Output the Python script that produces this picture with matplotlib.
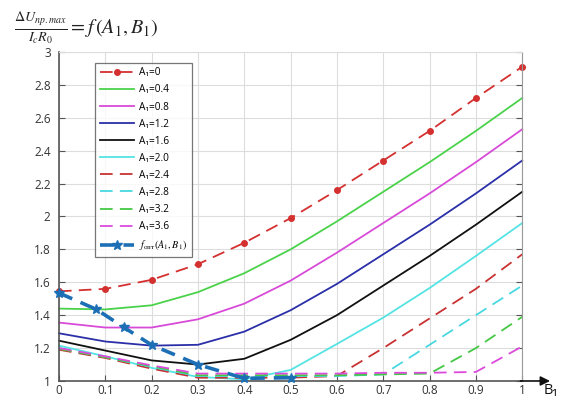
import matplotlib
matplotlib.use('Agg')
import matplotlib.pyplot as plt
import numpy as np

plt.rcParams['font.family'] = ['Open Sans', 'DejaVu Sans']
plt.rcParams['mathtext.fontset'] = 'stix'

b1 = [0.0, 0.1, 0.2, 0.3, 0.4, 0.5, 0.6, 0.7, 0.8, 0.9, 1.0]

a_0   = [1.545, 1.56, 1.615, 1.71, 1.84, 1.99, 2.16, 2.34, 2.52, 2.72, 2.91]
a_04  = [1.44, 1.435, 1.46, 1.54, 1.655, 1.80, 1.97, 2.15, 2.33, 2.52, 2.72]
a_08  = [1.355, 1.325, 1.325, 1.375, 1.47, 1.61, 1.78, 1.96, 2.14, 2.33, 2.53]
a_12  = [1.29, 1.24, 1.215, 1.22, 1.30, 1.43, 1.59, 1.77, 1.95, 2.14, 2.34]
a_16  = [1.245, 1.185, 1.125, 1.10, 1.135, 1.25, 1.40, 1.58, 1.76, 1.95, 2.15]
a_20  = [1.215, 1.15, 1.08, 1.025, 1.01, 1.067, 1.225, 1.385, 1.565, 1.76, 1.96]
a_24  = [1.19, 1.14, 1.075, 1.02, 1.02, 1.02, 1.03, 1.20, 1.38, 1.56, 1.77]
a_28  = [1.20, 1.145, 1.085, 1.03, 1.03, 1.03, 1.03, 1.04, 1.22, 1.40, 1.58]
a_32  = [1.195, 1.145, 1.09, 1.035, 1.035, 1.035, 1.035, 1.04, 1.045, 1.20, 1.39]
a_36  = [1.20, 1.15, 1.095, 1.045, 1.045, 1.045, 1.045, 1.05, 1.05, 1.055, 1.21]

opt_b = [0.0, 0.081, 0.14, 0.2, 0.3, 0.4, 0.5]
opt_v = [1.535, 1.435, 1.326, 1.219, 1.10, 1.016, 1.02]

labels = ['A\u2081=0', 'A\u2081=0.4', 'A\u2081=0.8', 'A\u2081=1.2', 'A\u2081=1.6',
          'A\u2081=2.0', 'A\u2081=2.4', 'A\u2081=2.8', 'A\u2081=3.2', 'A\u2081=3.6']

fig = plt.figure(figsize=(5.67, 4.01), dpi=100)
ax = fig.add_axes([0.104, 0.0499, 0.817, 0.8205])

dash = (0, (7, 4))
ax.plot(b1, a_0, color='#d43030', ls=dash, lw=1.3, marker='o', ms=4, label=labels[0], clip_on=False)
ax.plot(b1, a_04, color='#4bd24b', lw=1.3, label=labels[1], clip_on=False)
ax.plot(b1, a_08, color='#d84ad8', lw=1.3, label=labels[2], clip_on=False)
ax.plot(b1, a_12, color='#2b2fa8', lw=1.3, label=labels[3], clip_on=False)
ax.plot(b1, a_16, color='#111111', lw=1.3, label=labels[4], clip_on=False)
ax.plot(b1, a_20, color='#55e3e3', lw=1.3, label=labels[5], clip_on=False)
ax.plot(b1, a_24, color='#c83232', ls=dash, lw=1.3, label=labels[6], clip_on=False)
ax.plot(b1, a_28, color='#48d8e0', ls=dash, lw=1.3, label=labels[7], clip_on=False)
ax.plot(b1, a_32, color='#44c844', ls=dash, lw=1.3, label=labels[8], clip_on=False)
ax.plot(b1, a_36, color='#dc4adc', ls=dash, lw=1.3, label=labels[9], clip_on=False)
ax.plot(opt_b, opt_v, color='#1d6fb5', ls=(0, (4, 2.5)), lw=2.6, marker='*', ms=7,
        label=r'$f_{\mathrm{опт}}(A_{\mathrm{1}},B_{\mathrm{1}})$', clip_on=False, zorder=5)

ax.set_xlim(0, 1)
ax.set_ylim(1, 3)
ax.set_xticks(np.arange(0, 1.01, 0.1))
ax.set_xticklabels(['0', '0.1', '0.2', '0.3', '0.4', '0.5', '0.6', '0.7', '0.8', '0.9', '1'])
ax.set_yticks(np.arange(1, 3.01, 0.2))
ax.set_yticklabels(['1', '1.2', '1.4', '1.6', '1.8', '2', '2.2', '2.4', '2.6', '2.8', '3'])
ax.grid(True, color='#dddddd', lw=0.8)
ax.tick_params(direction='in', length=4, labelsize=8.5, colors='#555555', labelcolor='#333333',
               right=True, pad=6)
ax.tick_params(axis='x', pad=2.5)
for s in ['left', 'bottom']:
    ax.spines[s].set_color('#555555')
    ax.spines[s].set_linewidth(1.2)
ax.spines['right'].set_color('#999999')
ax.spines['top'].set_color('#dddddd')

ax.annotate('', xy=(1.066, 1), xytext=(0.99, 1), xycoords='data',
            arrowprops=dict(arrowstyle='-|>', color='#111111', lw=1.2, mutation_scale=14),
            annotation_clip=False)
ax.text(1.062, 0.945, 'B\u2081', fontsize=10.5, va='center', ha='center', color='#111111')

leg = ax.legend(loc='upper left', bbox_to_anchor=(0.078, 0.967), fontsize=7.3, frameon=True,
                fancybox=False, handlelength=3.4, labelspacing=0.6, borderpad=0.45,
                handletextpad=0.5, borderaxespad=0)
leg.get_frame().set_edgecolor('#555555')
leg.get_frame().set_linewidth(0.9)

fig.text(0.025, 0.928, r'$\frac{\Delta U_{пр.max}}{I_{c}R_{0}}=f\,(A_{1},B_{1})$',
         fontsize=14.5, ha='left', va='center', color='#222222')

fig.savefig('out.png', dpi=100)
